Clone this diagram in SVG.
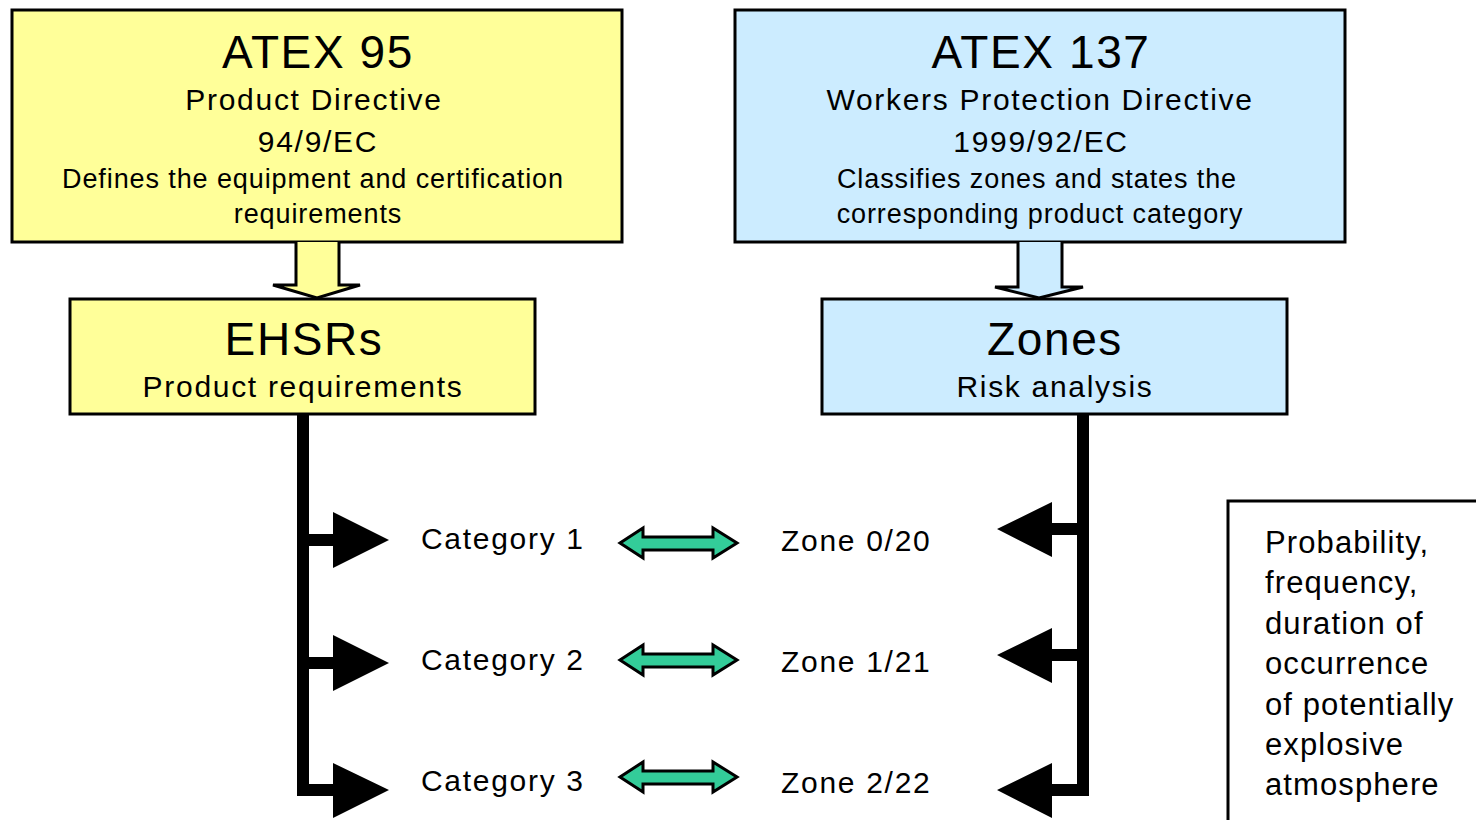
<svg xmlns="http://www.w3.org/2000/svg" width="1476" height="820" viewBox="0 0 1476 820">
<style>
text{font-family:"Liberation Sans",Arial,sans-serif;fill:#000}
.y{fill:#FFFF99;stroke:#000;stroke-width:3}
.b{fill:#CCECFF;stroke:#000;stroke-width:3}
.t1{font-size:46px;text-anchor:middle;letter-spacing:1.6px}
.t2{font-size:30px;text-anchor:middle;letter-spacing:1.7px}
.t3{font-size:27px;text-anchor:middle;letter-spacing:0.9px}
.lbl{font-size:30px;letter-spacing:1.7px}
.side{font-size:31px;letter-spacing:1.1px}
.ln{fill:none;stroke:#000;stroke-width:12}
.tri{fill:#000}
.dbl{fill:#33CC99;stroke:#000;stroke-width:3;stroke-linejoin:miter}
</style>
<g id="atex95">
<rect class="y" x="12" y="10" width="610" height="232"/>
<text class="t1" x="318" y="68">ATEX 95</text>
<text class="t2" x="314" y="110">Product Directive</text>
<text class="t2" x="318" y="152">94/9/EC</text>
<text class="t3" x="313" y="188">Defines the equipment and certification</text>
<text class="t3" x="318" y="223">requirements</text>
</g>
<g id="atex137">
<rect class="b" x="735" y="10" width="610" height="232"/>
<text class="t1" x="1041" y="68">ATEX 137</text>
<text class="t2" x="1040" y="110">Workers Protection Directive</text>
<text class="t2" x="1041" y="152">1999/92/EC</text>
<text class="t3" x="1037" y="188">Classifies zones and states the</text>
<text class="t3" x="1040" y="223">corresponding product category</text>
</g>
<g id="ehsrs">
<rect class="y" x="70" y="299" width="465" height="115"/>
<text class="t1" x="304" y="355">EHSRs</text>
<text class="t2" x="303" y="397">Product requirements</text>
</g>
<g id="zones">
<rect class="b" x="822" y="299" width="465" height="115"/>
<text class="t1" x="1055" y="355">Zones</text>
<text class="t2" x="1055" y="397">Risk analysis</text>
</g>
<g id="cat1"><text class="lbl" x="421" y="549">Category 1</text></g>
<g id="cat2"><text class="lbl" x="421" y="670">Category 2</text></g>
<g id="cat3"><text class="lbl" x="421" y="791">Category 3</text></g>
<g id="zone0"><text class="lbl" x="781" y="551">Zone 0/20</text></g>
<g id="zone1"><text class="lbl" x="781" y="672">Zone 1/21</text></g>
<g id="zone2"><text class="lbl" x="781" y="793">Zone 2/22</text></g>
<g id="note">
<rect x="1228" y="501" width="260" height="330" fill="#fff" stroke="#000" stroke-width="3"/>
<text class="side" x="1265" y="553">Probability,</text>
<text class="side" x="1265" y="593">frequency,</text>
<text class="side" x="1265" y="634">duration of</text>
<text class="side" x="1265" y="674">occurrence</text>
<text class="side" x="1265" y="715">of potentially</text>
<text class="side" x="1265" y="755">explosive</text>
<text class="side" x="1265" y="795">atmosphere</text>
</g>
<g id="connectors">
<path class="y" d="M296 242 V285 H273 L317 298 L360 285 H339 V242"/>
<path class="b" d="M1018 242 V287 H995 L1039 298 L1083 287 H1062 V242"/>
<path class="ln" d="M303 414 V790 H340"/>
<path class="ln" d="M303 540 H340 M303 663 H340"/>
<path class="tri" d="M333 512 L389 540 L333 568 Z M333 635 L389 663 L333 691 Z M333 763 L389 790 L333 818 Z"/>
<path class="ln" d="M1083 414 V790 H1045"/>
<path class="ln" d="M1083 529 H1045 M1083 655 H1045"/>
<path class="tri" d="M1052 502 L997 529 L1052 557 Z M1052 628 L997 655 L1052 683 Z M1052 763 L997 790 L1052 818 Z"/>
<path class="dbl" d="M620 543 L643 528 V537 H713 V528 L737 543 L713 558 V550 H643 V558 Z"/>
<path class="dbl" d="M620 660 L643 645 V654 H713 V645 L737 660 L713 675 V667 H643 V675 Z"/>
<path class="dbl" d="M620 777 L643 762 V771 H713 V762 L737 777 L713 792 V784 H643 V792 Z"/>
</g>
</svg>
